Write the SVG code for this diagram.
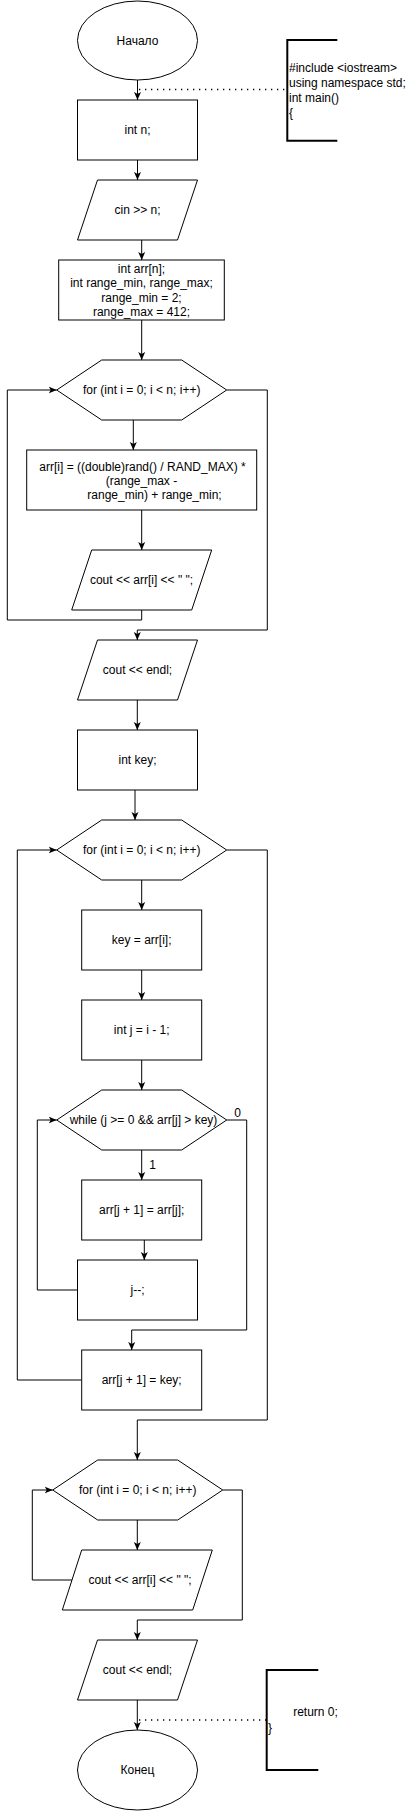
<svg xmlns="http://www.w3.org/2000/svg" width="407" height="1811" viewBox="0 0 407 1811">
<style>
.s{fill:#fff;stroke:#000;stroke-width:1}
.t{font-family:"Liberation Sans",Arial,sans-serif;font-size:12px;fill:#000;text-anchor:middle;dominant-baseline:central}
.tl{font-family:"Liberation Sans",Arial,sans-serif;font-size:12px;fill:#000;text-anchor:start;dominant-baseline:central}
.c{fill:none;stroke:#000;stroke-width:1}
.d{fill:none;stroke:#000;stroke-width:1.3;stroke-dasharray:1.3,4.7}
.b{fill:none;stroke:#000;stroke-width:2}
</style>
<defs>
<marker id="a" markerUnits="userSpaceOnUse" markerWidth="9" markerHeight="8" refX="8" refY="4" orient="auto">
<path d="M0,0.5 L8,4 L0,7.5 L2,4 Z" fill="#000"/>
</marker>
</defs>
<rect width="407" height="1811" fill="#fff"/>
<g id="connectors">
<path class="c" d="M137.5,80 V100" marker-end="url(#a)"/>
<path class="c" d="M137.5,160 V180" marker-end="url(#a)"/>
<path class="c" d="M141.7,240 V260" marker-end="url(#a)"/>
<path class="c" d="M141.7,320 V360" marker-end="url(#a)"/>
<path class="c" d="M133.3,420 V450" marker-end="url(#a)"/>
<path class="c" d="M141.7,510 V550" marker-end="url(#a)"/>
<path class="c" d="M141.7,610 V620 H7.3 V390 H56.7" marker-end="url(#a)"/>
<path class="c" d="M226.7,390 H267.3 V630 H137.3 V640" marker-end="url(#a)"/>
<path class="c" d="M137.3,700 V730" marker-end="url(#a)"/>
<path class="c" d="M135,790 V820" marker-end="url(#a)"/>
<path class="c" d="M141.7,880 V910" marker-end="url(#a)"/>
<path class="c" d="M141.7,970 V1000" marker-end="url(#a)"/>
<path class="c" d="M141.7,1060 V1090" marker-end="url(#a)"/>
<path class="c" d="M141.7,1150 V1180" marker-end="url(#a)"/>
<path class="c" d="M144.3,1240 V1260" marker-end="url(#a)"/>
<path class="c" d="M77.5,1290 H37.3 V1120 H56.7" marker-end="url(#a)"/>
<path class="c" d="M226.7,1120 H246.7 V1330 H131.7 V1350" marker-end="url(#a)"/>
<path class="c" d="M81.7,1380 H17.3 V850 H56.7" marker-end="url(#a)"/>
<path class="c" d="M226.7,850 H267.3 V1420 H137.3 V1460" marker-end="url(#a)"/>
<path class="c" d="M137.3,1520 V1550" marker-end="url(#a)"/>
<path class="c" d="M72,1580 H32.3 V1490 H52.7" marker-end="url(#a)"/>
<path class="c" d="M222.7,1490 H242.3 V1620 H137.3 V1640" marker-end="url(#a)"/>
<path class="c" d="M137.3,1700 V1730" marker-end="url(#a)"/>
<path class="d" d="M139,89.5 H287"/>
<path class="d" d="M139,1720 H266.7"/>
<text class="t" x="152.5" y="1164.5">1</text>
<text class="t" x="237.5" y="1112.5">0</text>
</g>
<g id="start">
<ellipse class="s" cx="137.5" cy="40.5" rx="60" ry="39.5"/>
<text class="t" x="137.5" y="40.5">Начало</text>
</g>
<g id="note1">
<path class="b" d="M337.3,40 H287.3 V140.7 H337.3"/>
<text class="tl" x="289" y="67.5">#include &lt;iostream&gt;</text>
<text class="tl" x="289" y="82.5">using namespace std;</text>
<text class="tl" x="289" y="97.5">int main()</text>
<text class="tl" x="289" y="112.5">{</text>
</g>
<g id="n1">
<rect class="s" x="77.5" y="100" width="120" height="60"/>
<text class="t" x="137.5" y="130">int n;</text>
</g>
<g id="n2">
<polygon class="s" points="97.5,180 197.5,180 177.5,240 77.5,240"/>
<text class="t" x="137.5" y="210">cin &gt;&gt; n;</text>
</g>
<g id="n3">
<rect class="s" x="58.7" y="260" width="165.6" height="60"/>
<text class="t" x="141.5" y="268.5">int arr[n];</text>
<text class="t" x="141.5" y="283">int range_min, range_max;</text>
<text class="t" x="141.5" y="297.5">range_min = 2;</text>
<text class="t" x="141.5" y="312">range_max = 412;</text>
</g>
<g id="n4">
<polygon class="s" points="101.7,360 181.7,360 226.7,390 181.7,420 101.7,420 56.7,390"/>
<text class="t" x="141.7" y="390">for (int i = 0; i &lt; n; i++)</text>
</g>
<g id="n5">
<rect class="s" x="26.7" y="450" width="230" height="60"/>
<text class="t" x="142.5" y="466.5">arr[i] = ((double)rand() / RAND_MAX) *</text>
<text class="t" x="141.5" y="480.5">(range_max -</text>
<text class="tl" x="87.3" y="495">range_min) + range_min;</text>
</g>
<g id="n6">
<polygon class="s" points="91.7,550 211.7,550 191.7,610 71.7,610"/>
<text class="t" x="141.5" y="580">cout &lt;&lt; arr[i] &lt;&lt; " ";</text>
</g>
<g id="n7">
<polygon class="s" points="97.5,640 197.5,640 177.5,700 77.5,700"/>
<text class="t" x="137.5" y="670">cout &lt;&lt; endl;</text>
</g>
<g id="n8">
<rect class="s" x="77.5" y="730" width="120" height="60"/>
<text class="t" x="137.5" y="760">int key;</text>
</g>
<g id="n9">
<polygon class="s" points="101.7,820 181.7,820 226.7,850 181.7,880 101.7,880 56.7,850"/>
<text class="t" x="141.7" y="850">for (int i = 0; i &lt; n; i++)</text>
</g>
<g id="n10">
<rect class="s" x="81.7" y="910" width="120" height="60"/>
<text class="t" x="141.7" y="940">key = arr[i];</text>
</g>
<g id="n11">
<rect class="s" x="81.7" y="1000" width="120" height="60"/>
<text class="t" x="141.7" y="1030">int j = i - 1;</text>
</g>
<g id="n12">
<polygon class="s" points="101.7,1090 181.7,1090 226.7,1120 181.7,1150 101.7,1150 56.7,1120"/>
<text class="t" x="143.5" y="1120">while (j &gt;= 0 &amp;&amp; arr[j] &gt; key)</text>
</g>
<g id="n13">
<rect class="s" x="81.7" y="1180" width="120" height="60"/>
<text class="t" x="141.7" y="1210">arr[j + 1] = arr[j];</text>
</g>
<g id="n14">
<rect class="s" x="77.5" y="1260" width="120" height="60"/>
<text class="t" x="137.5" y="1290">j--;</text>
</g>
<g id="n15">
<rect class="s" x="81.7" y="1350" width="120" height="60"/>
<text class="t" x="141.7" y="1380">arr[j + 1] = key;</text>
</g>
<g id="n16">
<polygon class="s" points="97.7,1460 177.7,1460 222.7,1490 177.7,1520 97.7,1520 52.7,1490"/>
<text class="t" x="137.7" y="1490">for (int i = 0; i &lt; n; i++)</text>
</g>
<g id="n17">
<polygon class="s" points="81.7,1550 212.3,1550 192.7,1610 62.3,1610"/>
<text class="t" x="140" y="1580">cout &lt;&lt; arr[i] &lt;&lt; " ";</text>
</g>
<g id="n18">
<polygon class="s" points="97.5,1640 197.5,1640 177.5,1700 77.5,1700"/>
<text class="t" x="137.5" y="1670">cout &lt;&lt; endl;</text>
</g>
<g id="end">
<ellipse class="s" cx="137.5" cy="1770" rx="60" ry="40"/>
<text class="t" x="137.5" y="1770">Конец</text>
</g>
<g id="note2">
<path class="b" d="M318.3,1670 H266.7 V1770 H318.3"/>
<text class="t" x="315.5" y="1712">return 0;</text>
<text class="tl" x="268" y="1728">}</text>
</g>
</svg>
